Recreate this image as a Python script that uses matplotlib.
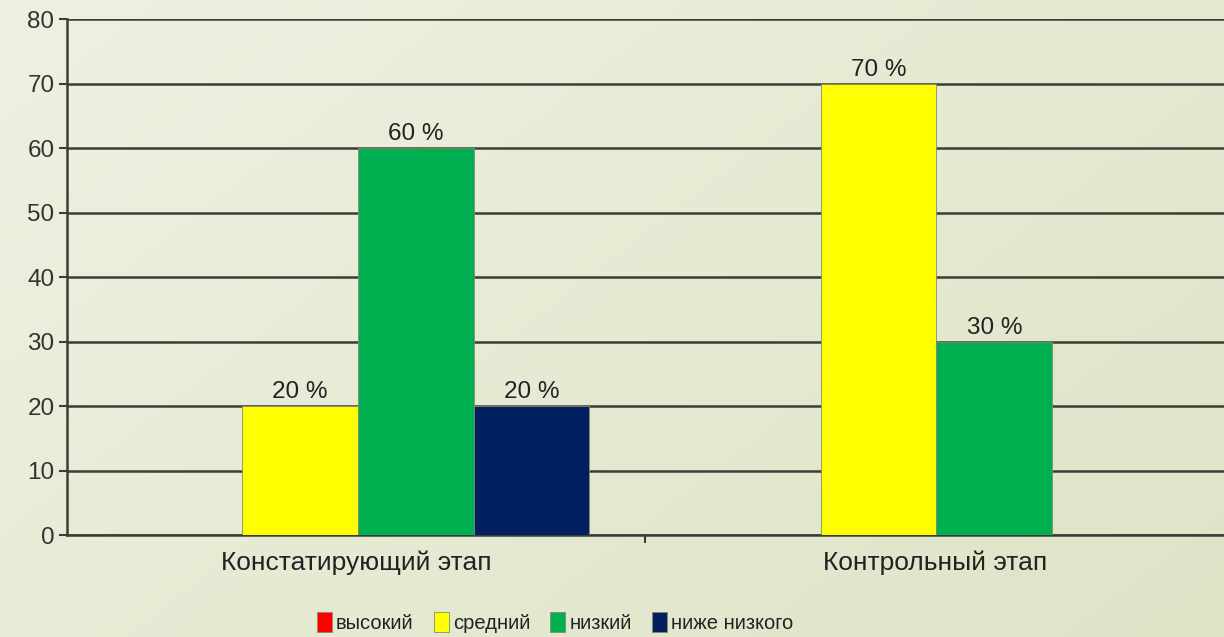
import numpy as np
import matplotlib
matplotlib.use("Agg")
import matplotlib.pyplot as plt
from matplotlib.colors import LinearSegmentedColormap

plt.rcParams['font.family'] = ['Liberation Sans', 'DejaVu Sans']

categories = ["Констатирующий этап", "Контрольный этап"]
series_names = ["высокий", "средний", "низкий", "ниже низкого"]
series_colors = ["#FF0000", "#FFFF00", "#00B050", "#002060"]
values = {
    "высокий": [0, 0],
    "средний": [20, 70],
    "низкий": [60, 30],
    "ниже низкого": [20, 0],
}
yticks = [0, 10, 20, 30, 40, 50, 60, 70, 80]

fig = plt.figure(figsize=(12.24, 6.37), dpi=100)

# background gradient
bg = fig.add_axes([0, 0, 1, 1], zorder=-10)
h, w = 200, 400
yy, xx = np.mgrid[0:1:h*1j, 0:1:w*1j]
t = 0.6 * xx + 0.4 * yy
cmap = LinearSegmentedColormap.from_list("bg", ["#EEF1E1", "#DDE4C6"])
bg.imshow(t, cmap=cmap, aspect='auto', extent=[0, 1, 0, 1], vmin=0, vmax=1)
bg.axis('off')

ax = fig.add_axes([0.0547, 0.160, 0.9453, 0.810])
ax.set_facecolor('none')

x = np.arange(len(categories))
bw = 0.2
n = len(series_names)
for i, (name, col) in enumerate(zip(series_names, series_colors)):
    offs = (i - (n - 1) / 2) * bw
    vals = values[name]
    ax.bar(x + offs + 0.003, vals, width=bw, color=col, edgecolor='#8a8a6a',
           linewidth=0.6, zorder=3, label=name)
    for xi, v in zip(x + offs + 0.003, vals):
        if v > 0:
            ax.annotate(f"{v} %", (xi, v), xytext=(0, 2), textcoords='offset points',
                        ha='center', va='bottom', fontsize=17.5, color='#222222', zorder=4)

ax.set_xlim(-0.5, 1.5)
ax.set_ylim(0, 80)
ax.set_yticks(yticks)
ax.set_yticklabels([str(v) for v in yticks], fontsize=17.5, color='#333333')
ax.yaxis.grid(True, color='#3a3e36', linewidth=1.8, zorder=1)
ax.set_axisbelow(True)
ax.set_xticks(x)
ax.set_xticklabels(categories, fontsize=19, color='#222222')
ax.set_xticks([0.5], minor=True)
ax.tick_params(axis='x', which='major', length=0, pad=11)
ax.tick_params(axis='x', which='minor', length=6, width=1.5, color='#3a3e36', direction='out')
ax.tick_params(axis='y', length=6, width=1.5, color='#3a3e36', pad=3)
for s in ['top', 'right']:
    ax.spines[s].set_visible(False)
ax.spines['left'].set_color('#3a3e36')
ax.spines['left'].set_linewidth(1.8)
ax.spines['bottom'].set_color('#3a3e36')
ax.spines['bottom'].set_linewidth(1.8)

handles, labels = ax.get_legend_handles_labels()
leg = fig.legend(handles, labels, loc='center', bbox_to_anchor=(0.4535, 0.023), ncol=4,
                 frameon=False, fontsize=14.5, handlelength=0.75, handleheight=1.2,
                 handletextpad=0.2, columnspacing=1.0)
for txt in leg.get_texts():
    txt.set_color('#222222')

fig.savefig("out.png", dpi=100)
